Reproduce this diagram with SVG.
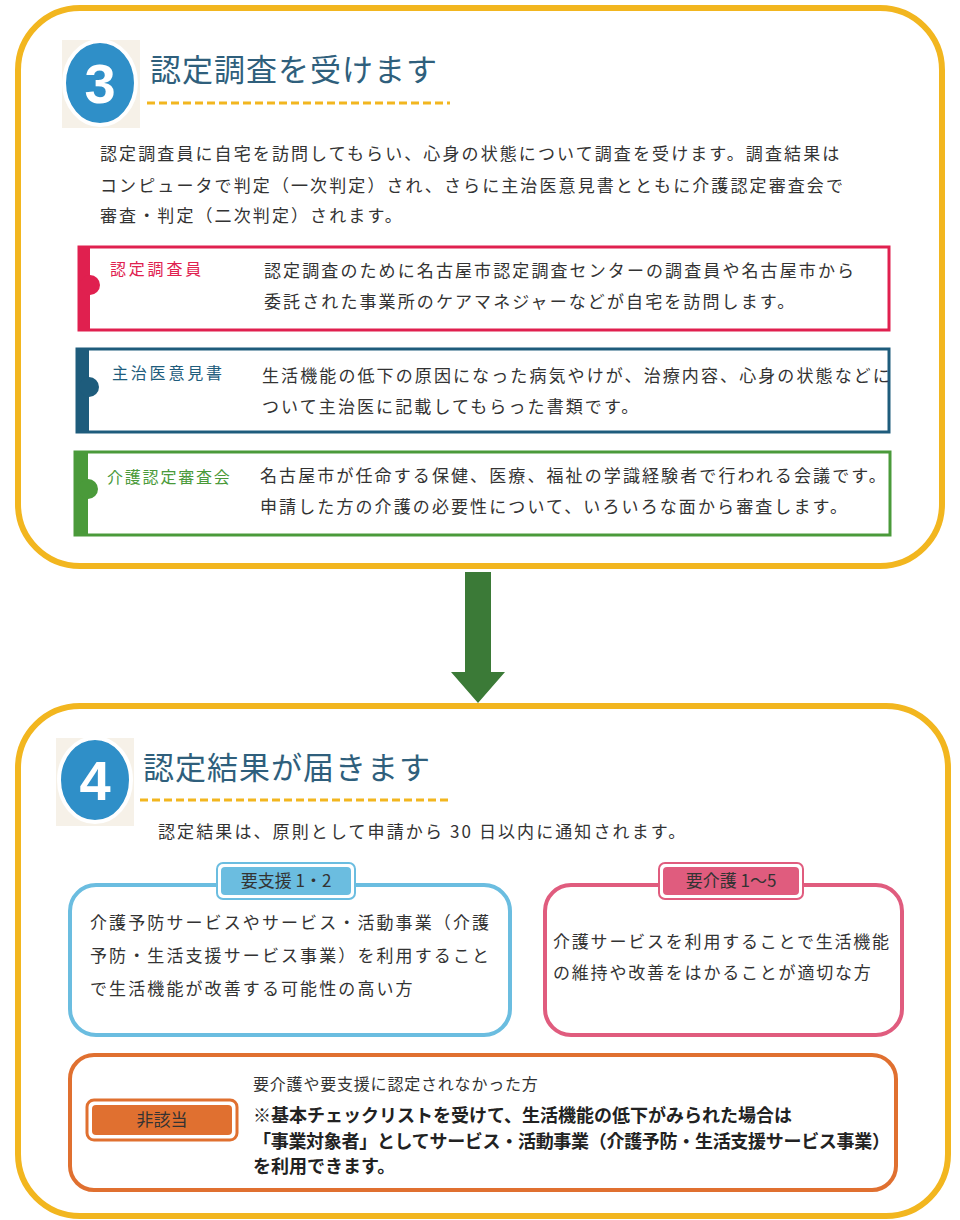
<svg xmlns="http://www.w3.org/2000/svg" width="960" height="1220" viewBox="0 0 960 1220">
<style>
text{font-family:"Noto Sans CJK JP","Noto Sans",sans-serif;fill:#333}
.t{font-size:17px;letter-spacing:2.1px}
.h{font-size:31px;fill:#2f5f7c;letter-spacing:1px}
.lab{font-size:16px;letter-spacing:2.8px}
.card{fill:#fff;stroke-width:3}
.dash{stroke:#f2b61f;stroke-width:3;stroke-dasharray:8 4}
.outer{fill:#fff;stroke:#f2b61f;stroke-width:6}
.num{font-family:"Liberation Sans",sans-serif;font-weight:bold;font-size:56px;fill:#fff;text-anchor:middle}
.b{font-size:18px;font-weight:bold;fill:#222}
</style>
<rect width="960" height="1220" fill="#fff"/>
<g id="step3">
<rect class="outer" x="18" y="8" width="924" height="558" rx="62"/>
<rect x="62" y="40" width="78" height="88" fill="#f6f1e8"/>
<ellipse cx="100" cy="83" rx="36" ry="42" fill="#2f8fc8" stroke="#fff" stroke-width="4"/>
<text class="num" x="100" y="103">3</text>
<text class="h" x="150" y="81">認定調査を受けます</text>
<line class="dash" x1="147" y1="103" x2="450" y2="103"/>
<text class="t" x="100" y="160">認定調査員に自宅を訪問してもらい、心身の状態について調査を受けます。調査結果は</text>
<text class="t" x="100" y="192">コンピュータで判定（一次判定）され、さらに主治医意見書とともに介護認定審査会で</text>
<text class="t" x="100" y="222">審査・判定（二次判定）されます。</text>
</g>
<g id="card-red">
<rect class="card" x="79" y="247" width="810" height="83" stroke="#e0204f"/>
<rect x="78" y="246" width="12" height="85" fill="#e0204f"/>
<circle cx="90" cy="285" r="10" fill="#e0204f"/>
<text class="lab" x="110" y="275" style="fill:#e0204f">認定調査員</text>
<text class="t" x="264" y="277">認定調査のために名古屋市認定調査センターの調査員や名古屋市から</text>
<text class="t" x="264" y="308">委託された事業所のケアマネジャーなどが自宅を訪問します。</text>
</g>
<g id="card-blue">
<rect class="card" x="77" y="349" width="812" height="83" stroke="#1e5c7c"/>
<rect x="76" y="348" width="13" height="85" fill="#1e5c7c"/>
<circle cx="89" cy="387" r="10" fill="#1e5c7c"/>
<text class="lab" x="112" y="379" style="fill:#1e5c7c">主治医意見書</text>
<text class="t" x="262" y="382">生活機能の低下の原因になった病気やけが、治療内容、心身の状態などに</text>
<text class="t" x="262" y="413">ついて主治医に記載してもらった書類です。</text>
</g>
<g id="card-green">
<rect class="card" x="75" y="452" width="815" height="83" stroke="#4a9a3a"/>
<rect x="74" y="451" width="14" height="85" fill="#4a9a3a"/>
<circle cx="88" cy="489" r="10" fill="#4a9a3a"/>
<text class="lab" x="107" y="483" style="fill:#4a9a3a;letter-spacing:1.8px">介護認定審査会</text>
<text class="t" x="260" y="482">名古屋市が任命する保健、医療、福祉の学識経験者で行われる会議です。</text>
<text class="t" x="260" y="513">申請した方の介護の必要性について、いろいろな面から審査します。</text>
</g>
<g id="connectors">
<polygon points="465,572 491,572 491,672 505,672 478,703 451,672 465,672" fill="#3b7a37"/>
</g>
<g id="step4">
<rect class="outer" x="18" y="706" width="930" height="510" rx="62"/>
<rect x="56" y="738" width="78" height="88" fill="#f6f1e8"/>
<ellipse cx="95" cy="780" rx="36" ry="42" fill="#2f8fc8" stroke="#fff" stroke-width="4"/>
<text class="num" x="95" y="800">4</text>
<text class="h" x="143" y="779">認定結果が届きます</text>
<line class="dash" x1="140" y1="800" x2="452" y2="800"/>
<text class="t" x="158" y="838">認定結果は、原則として申請から 30 日以内に通知されます。</text>
</g>
<g id="support">
<rect x="70" y="885" width="440" height="150" rx="26" fill="#fff" stroke="#6bbde0" stroke-width="4"/>
<rect x="217" y="863" width="138" height="36" rx="6" fill="#fff" stroke="#6bbde0" stroke-width="2"/>
<rect x="221" y="867" width="130" height="28" rx="4" fill="#6bbde0"/>
<text x="286" y="887" font-size="17" text-anchor="middle">要支援 1・2</text>
<text class="t" x="90" y="929">介護予防サービスやサービス・活動事業（介護</text>
<text class="t" x="90" y="962">予防・生活支援サービス事業）を利用すること</text>
<text class="t" x="90" y="995">で生活機能が改善する可能性の高い方</text>
</g>
<g id="care">
<rect x="545" y="885" width="357" height="150" rx="26" fill="#fff" stroke="#e05c7e" stroke-width="4"/>
<rect x="659" y="863" width="144" height="36" rx="6" fill="#fff" stroke="#e05c7e" stroke-width="2"/>
<rect x="663" y="867" width="136" height="28" rx="4" fill="#e05c7e"/>
<text x="731" y="887" font-size="17" text-anchor="middle">要介護 1〜5</text>
<text class="t" x="553" y="948" style="letter-spacing:1.8px">介護サービスを利用することで生活機能</text>
<text class="t" x="553" y="979" style="letter-spacing:1.8px">の維持や改善をはかることが適切な方</text>
</g>
<g id="none">
<rect x="70" y="1055" width="826" height="135" rx="24" fill="#fff" stroke="#e07030" stroke-width="4"/>
<rect x="87" y="1100" width="150" height="40" rx="7" fill="#fff" stroke="#e07030" stroke-width="3"/>
<rect x="92" y="1105" width="140" height="30" rx="4" fill="#e07030"/>
<text x="162" y="1126" font-size="17" text-anchor="middle">非該当</text>
<text x="253" y="1090" font-size="16" letter-spacing="0.8">要介護や要支援に認定されなかった方</text>
<text class="b" x="253" y="1122">※基本チェックリストを受けて、生活機能の低下がみられた場合は</text>
<text class="b" x="253" y="1148" letter-spacing="-0.3">「事業対象者」としてサービス・活動事業（介護予防・生活支援サービス事業）</text>
<text class="b" x="253" y="1173">を利用できます。</text>
</g>
</svg>
